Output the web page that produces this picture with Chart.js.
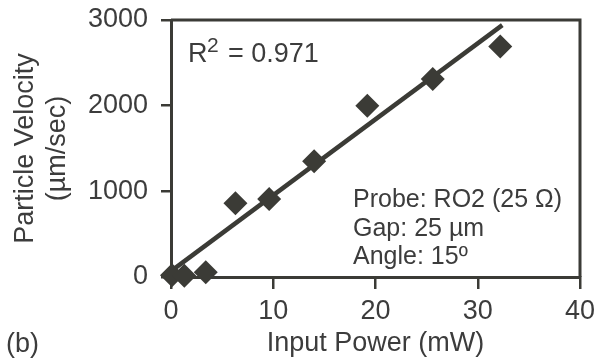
<!DOCTYPE html>
<html>
<head>
<meta charset="utf-8">
<script src="https://cdn.jsdelivr.net/npm/chart.js@4"></script>
<style>
  html, body { margin: 0; padding: 0; background: #ffffff; }
  #wrap { width: 602px; height: 362px; }
</style>
</head>
<body>
<div id="wrap"><canvas id="c" width="602" height="362"></canvas></div>
<script>
// ---- data ----
const powerMW = [0.1, 1.3, 3.4, 6.3, 9.6, 14.0, 19.2, 25.6, 32.2];
const velocityUmSec = [20, 15, 55, 860, 910, 1350, 2000, 2310, 2690];
const trendPower = [0.3, 32.4];
const trendVelocity = [95, 2940];
const xTicks = [0, 10, 20, 30, 40];
const yTicks = [0, 1000, 2000, 3000];
const xTitle = 'Input Power (mW)';
const yTitle = ['Particle Velocity', '(µm/sec)'];
const fitLabel = ['R', '2', '= 0.971'];
const infoLines = ['Probe: RO2 (25 Ω)', 'Gap: 25 µm', 'Angle: 15º'];
const panelLabel = '(b)';

const INK = '#3b3b36';
const TEXT = '#3c3c3c';
const FONT = 'Liberation Sans, Arial, Helvetica, sans-serif';

const scatterPts = powerMW.map((x, i) => ({ x: x, y: velocityUmSec[i] }));
const trendPts = trendPower.map((x, i) => ({ x: x, y: trendVelocity[i] }));

const annotations = {
  id: 'annotations',
  beforeDatasetsDraw(chart) {
    const ctx = chart.ctx;
    const a = chart.chartArea;
    ctx.save();
    // top and right frame lines
    ctx.strokeStyle = INK;
    ctx.lineWidth = 3;
    ctx.beginPath();
    ctx.moveTo(a.left, a.top);
    ctx.lineTo(a.right, a.top);
    ctx.lineTo(a.right, a.bottom);
    ctx.stroke();
    ctx.restore();
  },
  afterDraw(chart) {
    const ctx = chart.ctx;
    const a = chart.chartArea;
    ctx.save();
    ctx.fillStyle = TEXT;
    ctx.textBaseline = 'alphabetic';
    ctx.textAlign = 'left';
    // R^2 label
    ctx.font = '27px ' + FONT;
    ctx.fillText(fitLabel[0], a.left + 17, a.top + 42);
    ctx.font = '21px ' + FONT;
    ctx.fillText(fitLabel[1], a.left + 36, a.top + 32);
    ctx.font = '27px ' + FONT;
    ctx.fillText(fitLabel[2], a.left + 57, a.top + 42);
    // info block
    ctx.font = '25px ' + FONT;
    infoLines.forEach((t, i) => {
      ctx.fillText(t, a.left + 182, a.top + 187 + i * 28.5);
    });
    // panel label
    ctx.font = '27px ' + FONT;
    ctx.fillText(panelLabel, 6, 352);
    ctx.restore();
  }
};

const plainLabel = v => String(v);

new Chart(document.getElementById('c'), {
  type: 'scatter',
  data: {
    datasets: [
      {
        label: 'trend',
        data: trendPts,
        showLine: true,
        borderColor: INK,
        borderWidth: 4.5,
        pointRadius: 0,
        fill: false,
        clip: false,
        order: 2
      },
      {
        label: 'data',
        data: scatterPts,
        pointStyle: 'rectRot',
        pointRadius: 12,
        pointHoverRadius: 12,
        backgroundColor: INK,
        borderColor: INK,
        borderWidth: 0,
        clip: false,
        order: 1
      }
    ]
  },
  options: {
    responsive: false,
    animation: false,
    devicePixelRatio: 1,
    layout: { padding: { left: 0, right: 22, top: 20, bottom: 0 } },
    plugins: { legend: { display: false }, tooltip: { enabled: false } },
    scales: {
      x: {
        type: 'linear',
        min: xTicks[0],
        max: xTicks[xTicks.length - 1],
        afterBuildTicks: s => { s.ticks = xTicks.map(v => ({ value: v })); },
        afterFit: s => { s.height = 85; s.paddingLeft = 0; s.paddingRight = 0; },
        border: { display: true, color: INK, width: 3 },
        grid: { drawOnChartArea: false, drawTicks: true, tickLength: 12, color: INK, lineWidth: 2.5 },
        ticks: { color: TEXT, font: { family: FONT, size: 27 }, padding: 6, maxRotation: 0, callback: plainLabel },
        title: { display: true, text: xTitle, color: TEXT, font: { family: FONT, size: 27 }, padding: { top: 0, bottom: 2 } }
      },
      y: {
        type: 'linear',
        min: yTicks[0],
        max: yTicks[yTicks.length - 1],
        afterBuildTicks: s => { s.ticks = yTicks.map(v => ({ value: v })); },
        afterFit: s => { s.width = 171; s.paddingTop = 0; s.paddingBottom = 0; },
        border: { display: true, color: INK, width: 3 },
        grid: { drawOnChartArea: false, drawTicks: true, tickLength: 10, color: INK, lineWidth: 2.5 },
        ticks: { color: TEXT, font: { family: FONT, size: 27 }, padding: 13, callback: plainLabel },
        title: { display: true, text: yTitle, color: TEXT, font: { family: FONT, size: 27 }, padding: { top: 9, bottom: 0 } }
      }
    }
  },
  plugins: [annotations]
});
</script>
</body>
</html>
